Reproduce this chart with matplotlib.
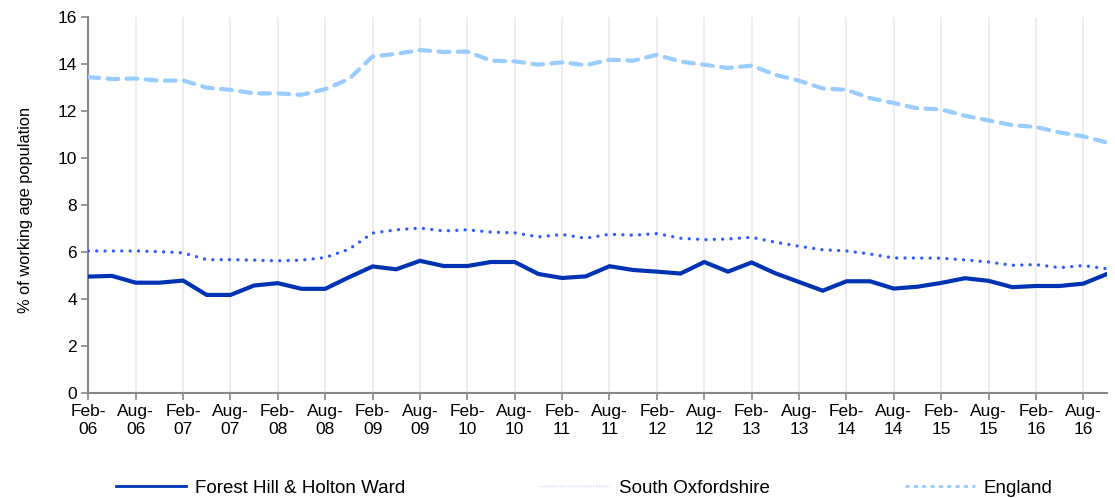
import matplotlib
matplotlib.use("Agg")
import matplotlib.pyplot as plt
from matplotlib.lines import Line2D

plt.rcParams['font.family'] = ['Liberation Sans', 'DejaVu Sans']

months = ["Feb", "May", "Aug", "Nov"]
years = ["06", "07", "08", "09", "10", "11", "12", "13", "14", "15", "16"]
categories = [f"{m}-{y}" for y in years for m in months]

forest_hill = [4.95, 4.98, 4.69, 4.69, 4.78, 4.17, 4.17, 4.57, 4.67, 4.43, 4.43,
               4.92, 5.38, 5.26, 5.62, 5.40, 5.40, 5.57, 5.57, 5.06, 4.89, 4.96,
               5.39, 5.23, 5.16, 5.08, 5.57, 5.16, 5.55, 5.09, 4.72, 4.35, 4.75,
               4.75, 4.44, 4.52, 4.68, 4.88, 4.77, 4.50, 4.55, 4.55, 4.65, 5.06]
south_oxon = [6.04, 6.04, 6.04, 6.01, 5.96, 5.67, 5.67, 5.65, 5.62, 5.65, 5.76,
              6.11, 6.80, 6.94, 7.01, 6.89, 6.94, 6.84, 6.81, 6.64, 6.74, 6.58,
              6.75, 6.71, 6.78, 6.58, 6.52, 6.55, 6.62, 6.41, 6.24, 6.09, 6.04,
              5.91, 5.74, 5.74, 5.73, 5.66, 5.57, 5.43, 5.46, 5.33, 5.42, 5.28]
england = [13.43, 13.35, 13.37, 13.28, 13.29, 12.98, 12.89, 12.74, 12.74, 12.68, 12.92,
           13.35, 14.31, 14.42, 14.58, 14.50, 14.52, 14.13, 14.10, 13.96, 14.06, 13.94,
           14.17, 14.13, 14.38, 14.09, 13.96, 13.82, 13.92, 13.53, 13.28, 12.95, 12.89,
           12.54, 12.33, 12.10, 12.06, 11.79, 11.59, 11.39, 11.31, 11.08, 10.91, 10.65]

series_names = ["Forest Hill & Holton Ward", "South Oxfordshire", "England"]

fig = plt.figure(figsize=(11.15, 4.98), dpi=100)
ax = fig.add_axes([88.3/1115, 1-393/498, (1107-88.3)/1115, (393-16.7)/498])

x = list(range(len(categories)))
c_fh = "#0033b3"
c_so = "#2d5cff"
c_en = "#99ccff"

ax.plot(x, england, color=c_en, lw=3.0, linestyle=(0, (2.6, 2.0)),
        dash_capstyle='round', zorder=3)
ax.plot(x, south_oxon, color=c_so, lw=2.4, linestyle=(0, (0.01, 2.5)),
        dash_capstyle='round', zorder=4)
ax.plot(x, forest_hill, color=c_fh, lw=3.0, solid_joinstyle='miter', zorder=5)

tick_pos = [i for i in x if categories[i].startswith(("Feb", "Aug"))]
tick_lab = [categories[i].replace("-", "-\n") for i in tick_pos]
ax.set_xticks(tick_pos)
ax.set_xticklabels(tick_lab, fontsize=12.5, linespacing=1.25)
ax.set_xlim(0, len(categories) - 1)
ax.set_ylim(0, 16)
ax.set_yticks(range(0, 17, 2))
ax.tick_params(axis='y', labelsize=12.5, length=5, width=1.2, color="#888888", pad=3)
ax.tick_params(axis='x', length=5, width=1.2, color="#888888", pad=3)
ax.grid(axis='x', color="#ececec", lw=1.3, zorder=0)
for s in ["top", "right"]:
    ax.spines[s].set_visible(False)
for s in ["left", "bottom"]:
    ax.spines[s].set_color("#888888")
    ax.spines[s].set_linewidth(1.5)
ax.set_ylabel("% of working age population", fontsize=11.8)
ax.yaxis.set_label_coords((33 - 88.3) / 1018.7, (393 - 210) / 376.3)

handles = [
    Line2D([], [], color=c_fh, lw=2.0),
    Line2D([], [], color="#c8d4ff", lw=1.0, linestyle=(0, (1, 1))),
    Line2D([], [], color=c_en, lw=2.0, linestyle=(0, (1.5, 1.5))),
]
fig.legend(handles, series_names, loc='center', bbox_to_anchor=(584/1115, 1-488/498),
           ncol=3, frameon=False, fontsize=13.5, handlelength=3.73,
           columnspacing=7.2, handletextpad=0.48)

fig.savefig("out.png", dpi=100)
